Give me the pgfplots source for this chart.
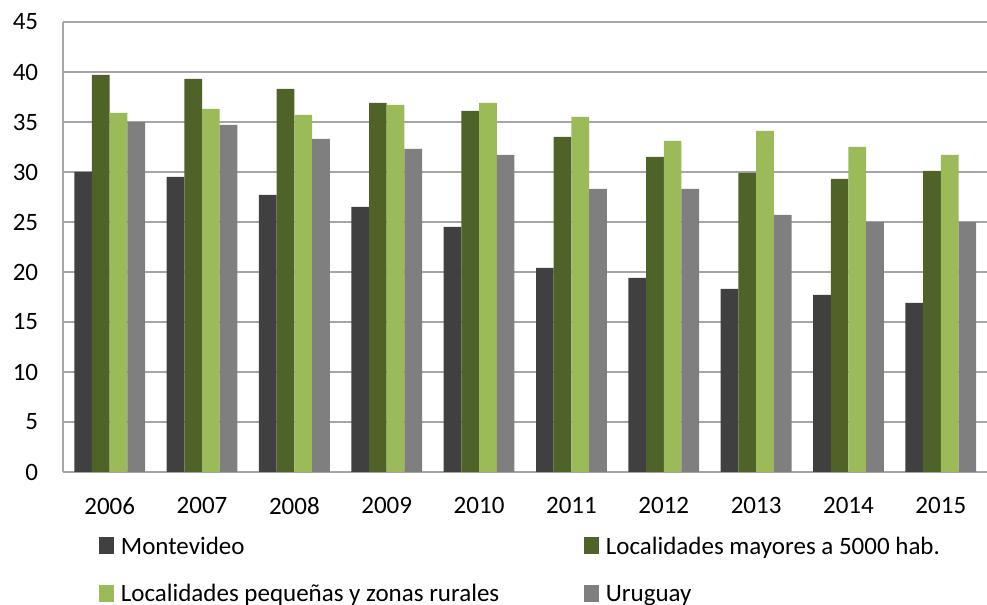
\documentclass[border=0pt]{standalone}
\usepackage{fontspec}
\setmainfont{Carlito}
\usepackage{pgfplots}
\pgfplotsset{compat=1.18}
\definecolor{cMont}{HTML}{404040}
\definecolor{cMay}{HTML}{4F6228}
\definecolor{cPeq}{HTML}{9BBB59}
\definecolor{cUru}{HTML}{7F7F7F}
\definecolor{cGrid}{HTML}{A6A6A6}
\begin{document}
\begin{tikzpicture}
\begin{axis}[
  scale only axis,
  width=461.75pt, height=225pt,
  ymin=0, ymax=45, ytick={0,5,...,45},
  xmin=-0.5, xmax=9.5,
  xtick={0,...,9},
  xticklabels={2006,2007,2008,2009,2010,2011,2012,2013,2014,2015},
  ybar=0pt, bar width=8.85pt,
  axis x line*=bottom, axis y line*=left,
  axis line style={cGrid, line width=1pt},
  ymajorgrids, grid style={cGrid, line width=1pt},
  major tick length=0pt,
  /pgf/number format/assume math mode=true,
  tick label style={font=\fontsize{12.5}{15}\selectfont, text=black},
  yticklabel style={inner sep=0pt, anchor=east, xshift=-12.5pt},
  xticklabel style={inner sep=0pt, anchor=north, yshift=-12.5pt},
  legend columns=2,
  legend style={at={(0,0)}, anchor=north west, xshift=17.5pt, yshift=-32.5pt,
    draw=none, fill=none, inner sep=0pt, row sep=15.5pt,
    font=\fontsize{12.5}{15}\selectfont,
    nodes={inner sep=0pt, text height=8.05pt, text depth=0pt},
    /tikz/every odd column/.style={column sep=3.5pt},
    /tikz/every even column/.style={column sep=0pt}},
  legend cell align=left,
  legend image code/.code={\fill[#1] (0pt,-4pt) rectangle (7.5pt,4.3pt);},
]
\addplot[fill=cMont, draw=none] coordinates {(0,30.0) (1,29.5) (2,27.7) (3,26.5) (4,24.5) (5,20.4) (6,19.4) (7,18.3) (8,17.7) (9,16.9)};
\addplot[fill=cMay, draw=none] coordinates {(0,39.7) (1,39.3) (2,38.3) (3,36.9) (4,36.1) (5,33.5) (6,31.5) (7,29.9) (8,29.3) (9,30.1)};
\addplot[fill=cPeq, draw=none] coordinates {(0,35.9) (1,36.3) (2,35.7) (3,36.7) (4,36.9) (5,35.5) (6,33.1) (7,34.1) (8,32.5) (9,31.7)};
\addplot[fill=cUru, draw=none] coordinates {(0,35.0) (1,34.7) (2,33.3) (3,32.3) (4,31.7) (5,28.3) (6,28.3) (7,25.7) (8,25.0) (9,25.0)};
\legend{\makebox[231.5pt][l]{Montevideo},Localidades mayores a 5000 hab.,\makebox[231.5pt][l]{Localidades pequeñas y zonas rurales},Uruguay}
\coordinate (O) at (rel axis cs:0,0);
\end{axis}
\pgfresetboundingbox
\path[use as bounding box] ([shift={(-31.75pt,-66.5pt)}]O) rectangle ([shift={(461.75pt,236pt)}]O);
\end{tikzpicture}
\end{document}
